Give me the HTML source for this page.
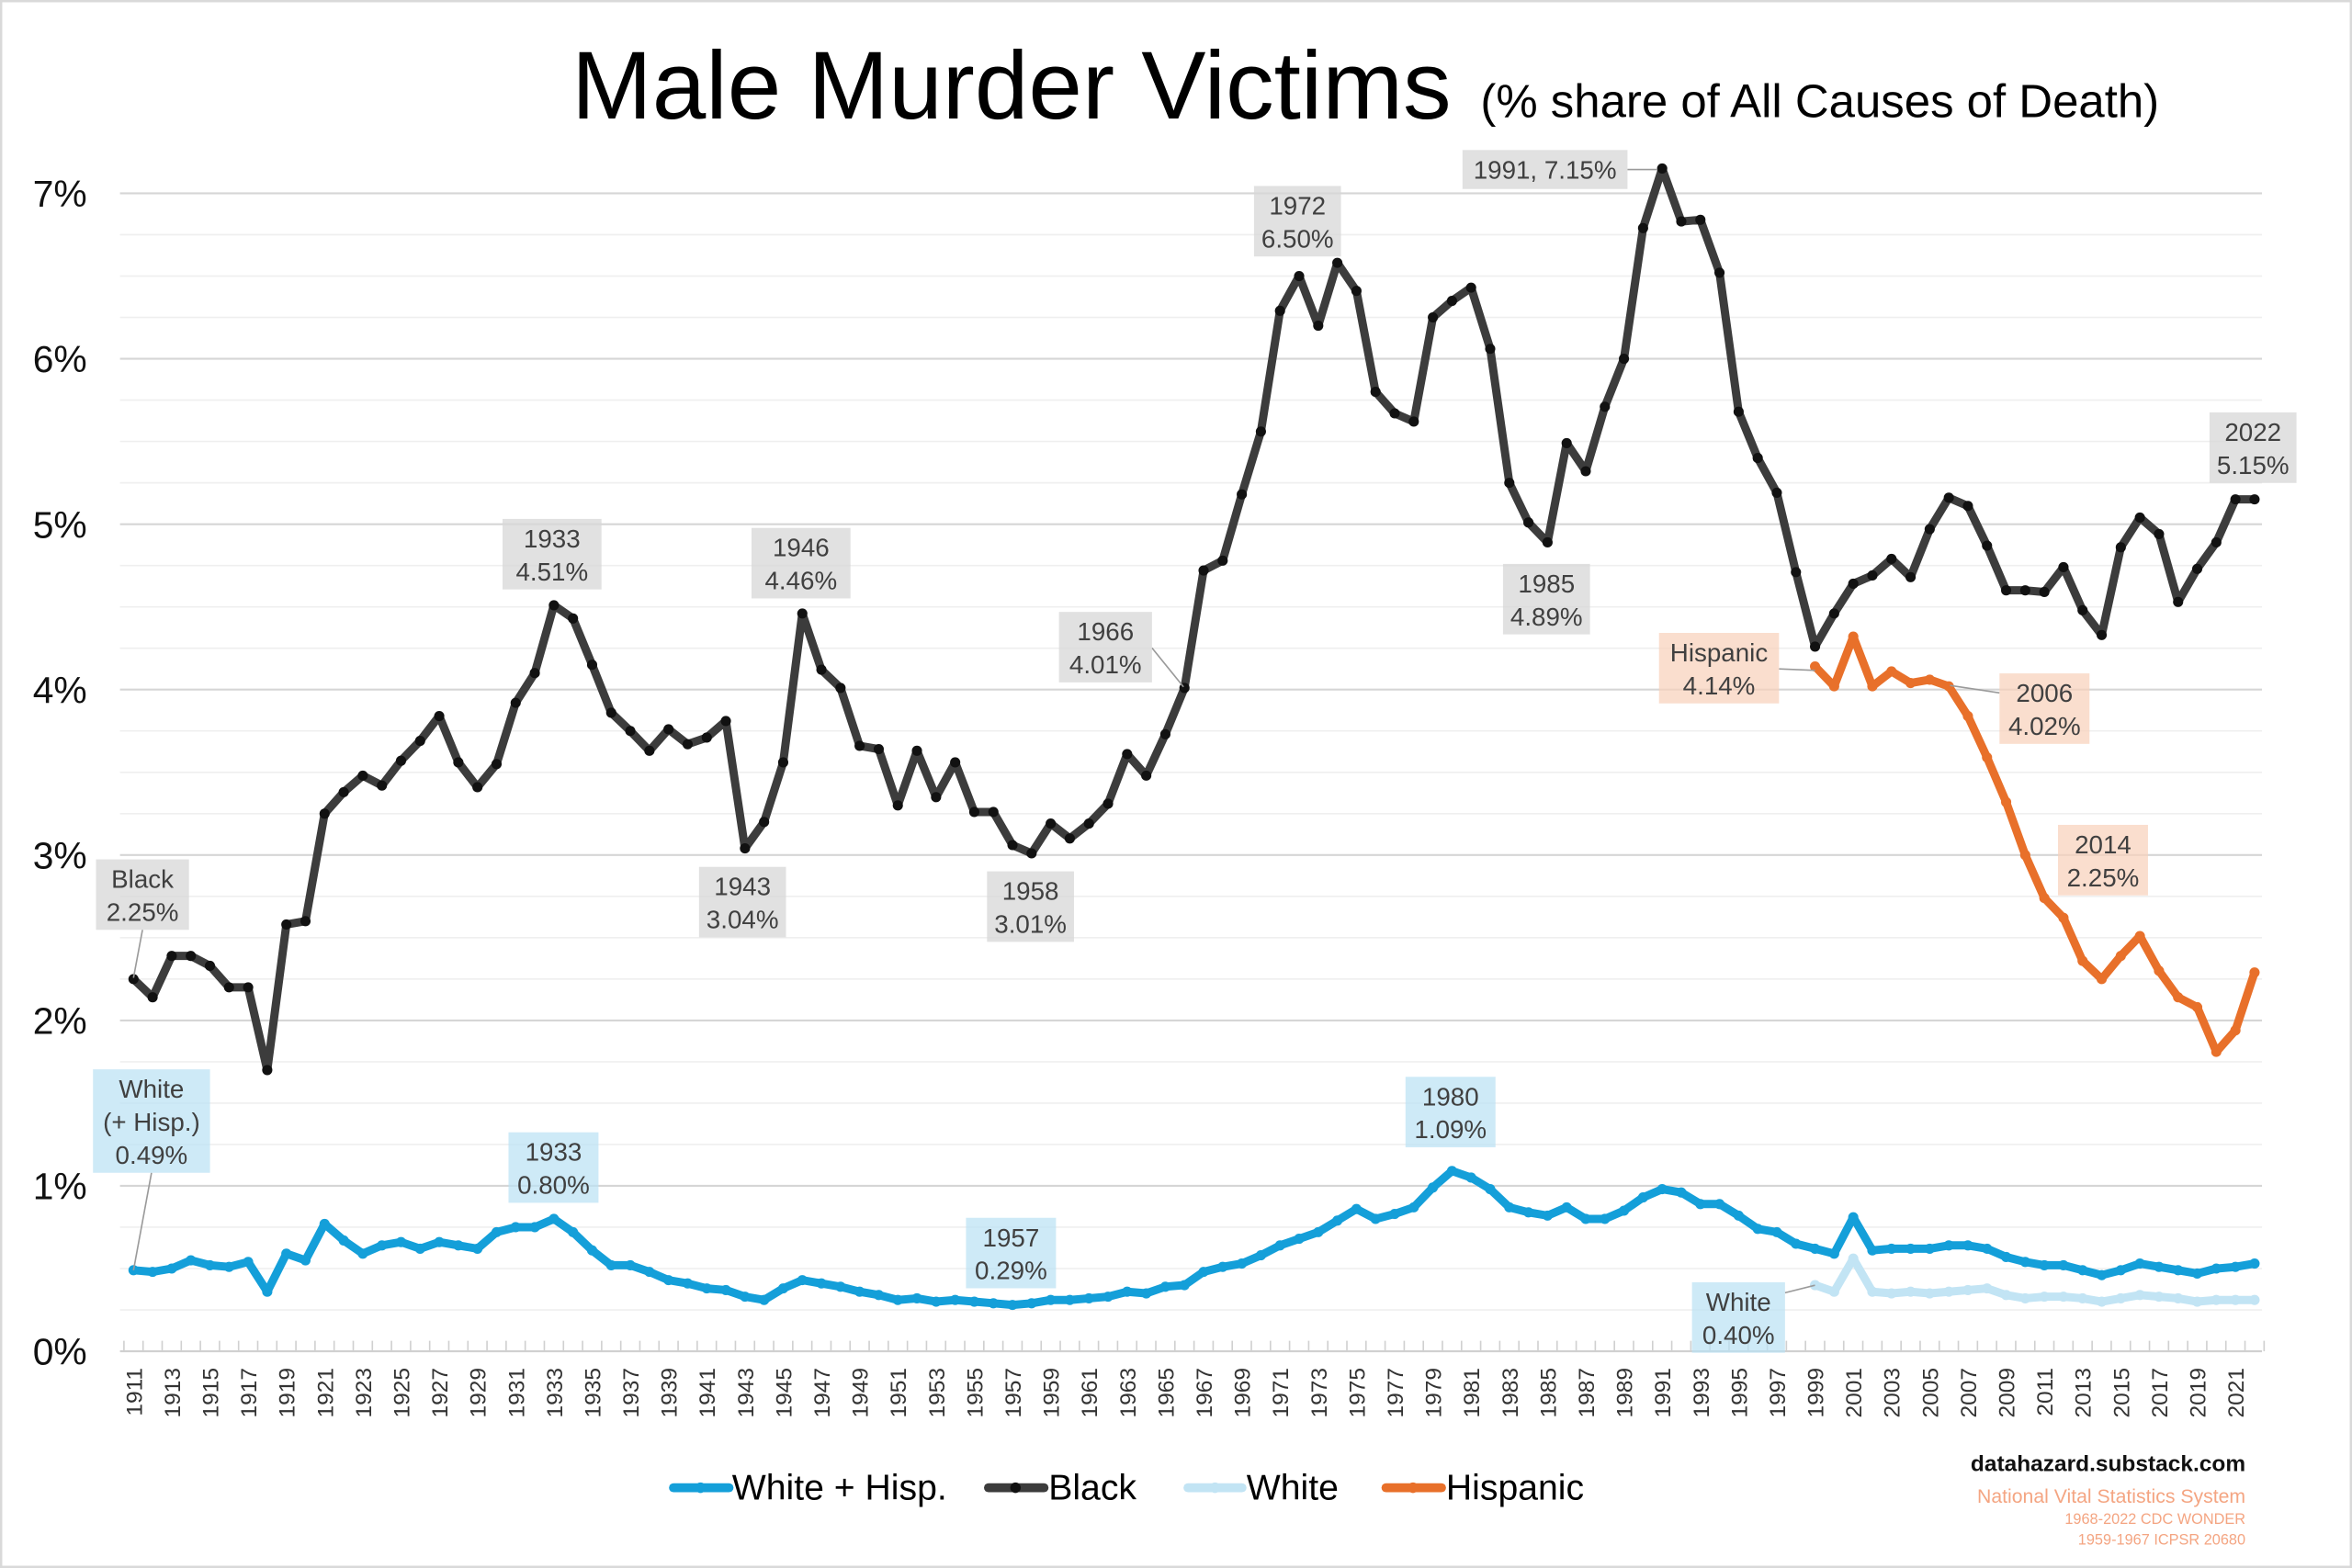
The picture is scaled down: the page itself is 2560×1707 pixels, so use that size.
<!DOCTYPE html>
<html><head><meta charset="utf-8"><style>
html,body{margin:0;padding:0;background:#fff;}
svg{display:block;}
text{font-family:"Liberation Sans",Arial,sans-serif;}
</style></head><body>
<svg id="s" width="2560" height="1707" viewBox="0 0 1568 1045.5" xmlns="http://www.w3.org/2000/svg">
<rect x="0" y="0" width="1568" height="1045.5" fill="#fff" stroke="#d9d9d9" stroke-width="3"/>
<g id="grid"></g>
<text x="381" y="79" font-size="64.5" fill="#000">Male Murder Victims</text>
<text x="987" y="78" font-size="31.2" fill="#000">(% share of All Causes of Death)</text>
<g id="ylab" font-size="25" fill="#111" text-anchor="end"></g>
<g id="xlab" font-size="15" fill="#333"></g>
<g id="series"></g>
<g id="ann" font-size="17" fill="#404040" text-anchor="middle"></g>
<g font-size="24" fill="#000">
<line x1="449" y1="992" x2="486" y2="992" stroke="#149fd9" stroke-width="6" stroke-linecap="round"/><circle cx="467" cy="992" r="3.5" fill="#149fd9"/>
<text x="488" y="1000">White + Hisp.</text>
<line x1="659" y1="992" x2="696" y2="992" stroke="#3c3c3c" stroke-width="6" stroke-linecap="round"/><circle cx="677" cy="992" r="3.5" fill="#111"/>
<text x="699" y="1000">Black</text>
<line x1="792" y1="992" x2="828" y2="992" stroke="#c2e4f4" stroke-width="6" stroke-linecap="round"/><circle cx="810" cy="992" r="3.5" fill="#c2e4f4"/>
<text x="831" y="1000">White</text>
<line x1="924" y1="992" x2="961" y2="992" stroke="#e8702a" stroke-width="6" stroke-linecap="round"/><circle cx="942" cy="992" r="3.5" fill="#e8702a"/>
<text x="964" y="1000">Hispanic</text>
</g>
<text x="1497" y="981" font-size="15" font-weight="bold" fill="#111" text-anchor="end">datahazard.substack.com</text>
<text x="1497" y="1002" font-size="13" fill="#f4a582" text-anchor="end">National Vital Statistics System</text>
<text x="1497" y="1016" font-size="10" fill="#f4a582" text-anchor="end">1968-2022 CDC WONDER</text>
<text x="1497" y="1030" font-size="10" fill="#f4a582" text-anchor="end">1959-1967 ICPSR 20680</text>
</svg>
<script>
function X(yr){return 89+(yr-1911)*12.739;}
function Y(v){return 901-v*110.3;}
var g="";
for(var i=1;i<=28;i++){var v=i*0.25;var y=Y(v);var major=(i%4==0);
g+='<line x1="80" x2="1508" y1="'+y+'" y2="'+y+'" stroke="'+(major?'#d6d6d6':'#efefef')+'" stroke-width="'+(major?1.3:1)+'"/>';}
g+='<line x1="80" x2="1508" y1="901" y2="901" stroke="#d0d0d0" stroke-width="1.3"/>';
for(var yr=1910;yr<=2022;yr++){var x=X(yr)+6.37;g+='<line x1="'+x+'" x2="'+x+'" y1="894" y2="901" stroke="#d0d0d0" stroke-width="1"/>';}
document.getElementById('grid').innerHTML=g;
var yl="";for(var i=0;i<=7;i++){yl+='<text x="58" y="'+(Y(i)+9)+'">'+i+'%</text>';}
document.getElementById('ylab').innerHTML=yl;
var xl="";for(var yr=1911;yr<=2022;yr+=2){var x=X(yr)+5.5;xl+='<text transform="translate('+x+',912) rotate(-90)" text-anchor="end">'+yr+'</text>';}
document.getElementById('xlab').innerHTML=xl;
var black=[2.25,2.14,2.39,2.39,2.33,2.20,2.20,1.70,2.58,2.60,3.25,3.38,3.48,3.42,3.57,3.69,3.84,3.56,3.41,3.55,3.92,4.10,4.51,4.43,4.15,3.86,3.75,3.63,3.76,3.67,3.71,3.81,3.04,3.20,3.56,4.46,4.12,4.01,3.66,3.64,3.30,3.63,3.35,3.56,3.26,3.26,3.06,3.01,3.19,3.10,3.19,3.31,3.61,3.48,3.73,4.01,4.72,4.78,5.18,5.56,6.29,6.50,6.20,6.58,6.41,5.80,5.67,5.62,6.25,6.35,6.43,6.06,5.25,5.01,4.89,5.49,5.32,5.71,6.00,6.79,7.15,6.83,6.84,6.52,5.68,5.40,5.19,4.71,4.26,4.46,4.64,4.69,4.79,4.68,4.97,5.16,5.11,4.87,4.60,4.60,4.59,4.74,4.48,4.33,4.86,5.04,4.94,4.53,4.73,4.89,5.15,5.15];
var wh=[.49,.48,.50,.55,.52,.51,.54,.36,.59,.55,.77,.67,.59,.64,.66,.62,.66,.64,.62,.72,.75,.75,.80,.72,.61,.52,.52,.48,.43,.41,.38,.37,.33,.31,.38,.43,.41,.39,.36,.34,.31,.32,.30,.31,.30,.29,.28,.29,.31,.31,.32,.33,.36,.35,.39,.40,.48,.51,.53,.58,.64,.68,.72,.79,.86,.80,.83,.87,.99,1.09,1.05,.98,.87,.84,.82,.87,.80,.80,.85,.93,.98,.96,.89,.89,.82,.74,.72,.65,.62,.59,.81,.61,.62,.62,.62,.64,.64,.62,.57,.54,.52,.52,.49,.46,.49,.53,.51,.49,.47,.50,.51,.53];
var hisp=[4.14,4.02,4.32,4.02,4.11,4.04,4.06,4.02,3.84,3.59,3.32,3.00,2.74,2.62,2.36,2.25,2.39,2.51,2.30,2.14,2.08,1.81,1.94,2.29];
var white=[.40,.36,.56,.36,.35,.36,.35,.36,.37,.38,.34,.32,.33,.33,.32,.30,.32,.34,.33,.32,.30,.31,.31,.31];
function series(arr,start,col,mcol){var d="",c="";for(var i=0;i<arr.length;i++){var x=X(start+i),y=Y(arr[i]);d+=(i?'L':'M')+x.toFixed(2)+','+y.toFixed(2);c+='<circle cx="'+x.toFixed(2)+'" cy="'+y.toFixed(2)+'" r="3.4" fill="'+mcol+'"/>';}
return '<path d="'+d+'" fill="none" stroke="'+col+'" stroke-width="5.5" stroke-linejoin="round"/>'+c;}
document.getElementById('series').innerHTML=series(white,1999,'#c2e4f4','#c2e4f4')+series(wh,1911,'#149fd9','#149fd9')+series(black,1911,'#3c3c3c','#111')+series(hisp,1999,'#e8702a','#e8702a');
var G='rgba(215,215,215,0.75)',O='rgba(248,208,185,0.7)',B='rgba(185,225,243,0.7)';
var anns=[
[95,573,62,47,G,['Black','2.25%'],[95,620,89,652]],
[368,346,66,47,G,['1933','4.51%']],
[534,352,66,47,G,['1946','4.46%']],
[495,578,58,47,G,['1943','3.04%']],
[687,581,58,47,G,['1958','3.01%']],
[737,408,62,47,G,['1966','4.01%'],[768,432,789,458]],
[865,124,58,47,G,['1972','6.50%']],
[1030,100,110,26,G,['1991, 7.15%'],[1085,113,1105,113]],
[1031,376,58,47,G,['1985','4.89%']],
[1502,275,58,47,G,['2022','5.15%']],
[1146,422,80,47,O,['Hispanic','4.14%'],[1186,446,1210,447]],
[1363,449,60,47,O,['2006','4.02%'],[1333,462,1300,457]],
[1402,550,60,47,O,['2014','2.25%']],
[101,713,78,69,B,['White','(+ Hisp.)','0.49%'],[101,782,89,847]],
[369,755,60,47,B,['1933','0.80%']],
[674,812,60,47,B,['1957','0.29%']],
[967,718,60,47,B,['1980','1.09%']],
[1159,855,62,47,B,['White','0.40%'],[1190,862,1210,857]]
];
var a="";
anns.forEach(function(t){var cx=t[0],y=t[1],w=t[2],h=t[3];
if(t[6]){var l=t[6];a+='<polyline points="'+l[0]+','+l[1]+' '+l[2]+','+l[3]+'" fill="none" stroke="#9a9a9a" stroke-width="1"/>';}
a+='<rect x="'+(cx-w/2)+'" y="'+y+'" width="'+w+'" height="'+h+'" fill="'+t[4]+'"/>';
t[5].forEach(function(s,i){a+='<text x="'+cx+'" y="'+(y+19+i*22)+'">'+s+'</text>';});});
document.getElementById('ann').innerHTML=a;
</script>
</body></html>
